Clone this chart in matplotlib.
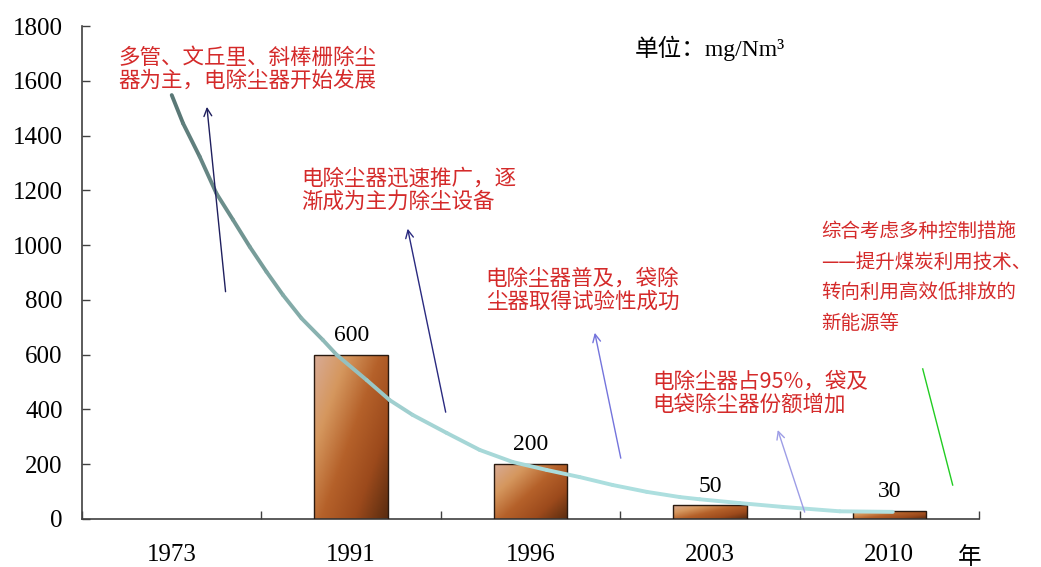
import matplotlib
matplotlib.use('Agg')
import matplotlib.pyplot as plt
import numpy as np
from matplotlib.collections import LineCollection
from matplotlib.colors import LinearSegmentedColormap

plt.rcParams['font.family'] = ['Liberation Serif', 'Noto Sans CJK SC', 'DejaVu Sans']

years = ['1973', '1991', '1996', '2003', '2010']
values = [None, 600, 200, 50, 30]

# trend curve (category position, concentration)
curve_x = [0.000, 0.063, 0.156, 0.249, 0.342, 0.435, 0.528, 0.620, 0.723,
           0.842, 0.920, 1.087, 1.215, 1.343, 1.533, 1.717, 1.901, 2.090,
           2.274, 2.458, 2.648, 2.832, 2.943, 3.166, 3.406, 3.724, 4.019]
curve_y = [1548, 1445, 1323, 1189, 1092, 994, 903, 818, 733,
           654, 599, 507, 434, 380, 314, 252, 208, 179,
           153, 124, 99, 80, 72, 58, 44, 28, 26]

notes = [
    (-0.30, 1643, '多管、文丘里、斜棒栅除尘\n器为主，电除尘器开始发展', 15.5, 1.05),
    (0.72, 1202, '电除尘器迅速推广，逐\n渐成为主力除尘设备', 15.5, 1.05),
    (1.75, 837, '电除尘器普及，袋除\n尘器取得试验性成功', 15.5, 1.05),
    (2.68, 460, '电除尘器占95%，袋及\n电袋除尘器份额增加', 15.5, 1.05),
    (3.62, 882, '综合考虑多种控制措施\n——提升煤炭利用技术、\n转向利用高效低排放的\n新能源等', 14, 1.6),
]

# arrows: (tail x, tail y, head x, head y, colour)
arrows = [
    (0.30, 830, 0.196, 1505, '#1f1f5e'),
    (1.527, 390, 1.315, 1060, '#2a2a80'),
    (2.503, 222, 2.358, 680, '#7474dc'),
    (3.528, 25, 3.378, 325, '#9d9de6'),
]

fig = plt.figure(figsize=(10.41, 5.67), dpi=100)
ax = fig.add_axes([0.0788, 0.0847, 0.8617, 0.8693])

xpos = np.arange(len(years))
bar_x = [xpos[i] for i in range(len(years)) if values[i] is not None]
bar_h = [v for v in values if v is not None]
bars = ax.bar(bar_x, bar_h, width=0.41, facecolor='none', edgecolor='#2a1a10',
              linewidth=1.0, zorder=3)

cmap = LinearSegmentedColormap.from_list(
    'copper_bar', ['#d8ab96', '#d5975e', '#b5612a', '#9c4a1c', '#5a2c10'])
gx, gy = np.meshgrid(np.linspace(0, 1, 60), np.linspace(1, 0, 200))
grad = (gx * 0.55 + (1 - gy) * 0.45)
for b in bars:
    x0, y0 = b.get_x(), b.get_y()
    w, h = b.get_width(), b.get_height()
    im = ax.imshow(grad, cmap=cmap, extent=[x0, x0 + w, y0, y0 + h],
                   aspect='auto', zorder=2, origin='upper')
    im.set_clip_path(b)

for x, v in zip(bar_x, bar_h):
    ax.text(x, v + 32, str(v), ha='center', va='bottom', fontsize=17, zorder=5)

# trend curve, shaded from dark grey-green to pale cyan
pts = np.column_stack([curve_x, curve_y]).reshape(-1, 1, 2)
segs = np.concatenate([pts[:-1], pts[1:]], axis=1)
line_cmap = LinearSegmentedColormap.from_list(
    'trend', ['#5a7876', '#7fa6a3', '#a3d3d3', '#acdfdf', '#b0e0e0'])
lc = LineCollection(segs, colors=line_cmap(np.linspace(0, 1, len(segs))),
                    linewidth=2.8, capstyle='round', joinstyle='round', zorder=4)
ax.add_collection(lc)

for tx, ty, hx, hy, c in arrows:
    ax.annotate('', xy=(hx, hy), xytext=(tx, ty),
                arrowprops=dict(arrowstyle='->', color=c, lw=1.0,
                                mutation_scale=14, shrinkA=0, shrinkB=0),
                zorder=5)
ax.plot([4.186, 4.353], [548, 124], color='#22cc22', lw=1.0, zorder=5,
        clip_on=False)

for x, y, s, fs, ls in notes:
    ax.text(x, y, s, ha='left', va='center', color='#d42a2a', fontsize=fs,
            family=['Noto Sans CJK SC'], linespacing=ls, zorder=6)

ax.text(2.58, 1720, '单位：mg/Nm³', ha='left', va='center', fontsize=17,
        family=['Liberation Serif', 'Noto Sans CJK SC'])

ax.set_xlim(-0.5, 4.5)
ax.set_ylim(0, 1800)
ax.set_yticks(range(0, 1801, 200))
ax.set_xticks(np.arange(-0.5, 4.51, 1.0))
ax.set_xticklabels([])
ax.tick_params(axis='both', direction='in', length=6, width=1.0, color='#404040',
               labelsize=18)
ax.tick_params(axis='y', pad=14)
for i, yr in enumerate(years):
    ax.text(xpos[i], -130, yr, ha='center', va='center', fontsize=18)
ax.text(4.45, -140, '年', ha='center', va='center', fontsize=17,
        family=['Noto Sans CJK SC'])

for side in ['top', 'right']:
    ax.spines[side].set_visible(False)
for side in ['left', 'bottom']:
    ax.spines[side].set_color('#404040')
    ax.spines[side].set_linewidth(1.2)

fig.savefig('out.png', dpi=100)
